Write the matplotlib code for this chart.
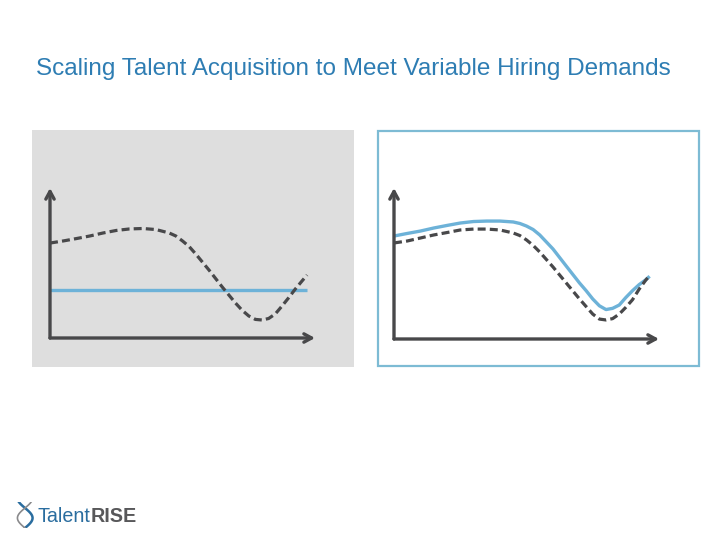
import matplotlib.pyplot as plt
from matplotlib.patches import Rectangle
import numpy as np

# ---- data (arbitrary units) ----
# left panel: fixed capacity vs. fluctuating hiring demand
left_x = [0, 0.5, 1, 1.5, 2, 2.5, 3, 3.5, 4, 4.5, 4.75, 5, 5.25, 5.5, 6, 6.5, 7, 7.25, 7.5,
          7.75, 8, 8.25, 8.5, 8.75, 9, 9.25, 9.5, 9.7]
left_demand = [6.33, 6.47, 6.63, 6.8, 7.0, 7.17, 7.27, 7.3, 7.23, 7.0, 6.8, 6.47, 6.1, 5.6,
               4.53, 3.4, 2.33, 1.85, 1.47, 1.24, 1.2, 1.3, 1.6, 2.12, 2.67, 3.25, 3.78, 4.2]
left_capacity_x = [0, 9.7]
left_capacity = [3.2, 3.2]

# right panel: scalable capacity tracking demand
right_x = [0, 0.5, 1, 1.5, 2, 2.5, 3, 3.5, 4, 4.5, 4.75, 5, 5.25, 5.5, 6, 6.5, 7, 7.25, 7.5,
           7.75, 8, 8.25, 8.5, 8.75, 9, 9.25, 9.5, 9.6]
right_demand = [6.36, 6.49, 6.69, 6.89, 7.05, 7.22, 7.28, 7.28, 7.22, 7.02, 6.85, 6.56, 6.2,
                5.76, 4.77, 3.71, 2.65, 2.15, 1.65, 1.32, 1.26, 1.35, 1.65, 2.1, 2.6, 3.3,
                3.9, 4.1]
right_capacity = [6.82, 6.99, 7.15, 7.35, 7.52, 7.68, 7.78, 7.81, 7.81, 7.75, 7.65, 7.48, 7.25,
                  6.89, 5.96, 4.83, 3.71, 3.2, 2.65, 2.2, 1.95, 2.03, 2.25, 2.75, 3.2, 3.6,
                  3.92, 4.08]

title = "Scaling Talent Acquisition to Meet Variable Hiring Demands"

W, H = 720, 540
AXIS_COLOR = '#48484a'
BLUE = '#6db2d8'
DASH_COLOR = '#48484a'

plt.rcParams['font.family'] = ['Liberation Sans', 'DejaVu Sans']

fig = plt.figure(figsize=(W / 100, H / 100), dpi=100)
fig.patch.set_facecolor('white')


def frac(x0, y0, x1, y1):
    """pixel box (top-left origin) -> figure fraction rect"""
    return [x0 / W, 1 - y1 / H, (x1 - x0) / W, (y1 - y0) / H]


# panel backgrounds
fig.patches.append(Rectangle((32 / W, 1 - 367 / H), 322 / W, 237 / H, transform=fig.transFigure,
                             facecolor='#dedede', edgecolor='none', zorder=0))
fig.patches.append(Rectangle((378 / W, 1 - 366 / H), 321 / W, 235 / H, transform=fig.transFigure,
                             facecolor='white', edgecolor='#7dbbd4', linewidth=1.6, zorder=0))


def make_panel(box):
    ax = fig.add_axes(frac(*box))
    ax.set_zorder(2)
    ax.set_xlim(0, 10)
    ax.set_ylim(0, 10)
    ax.axis('off')
    ax.patch.set_alpha(0)
    arrow = dict(arrowstyle='->,head_length=0.55,head_width=0.3', lw=2.4, color=AXIS_COLOR,
                 shrinkA=0, shrinkB=0)
    ax.annotate('', xy=(0, 1), xytext=(0, 0), xycoords='axes fraction', arrowprops=arrow,
                annotation_clip=False)
    ax.annotate('', xy=(1, 0), xytext=(0, 0), xycoords='axes fraction', arrowprops=arrow,
                annotation_clip=False)
    return ax


ax1 = make_panel((50, 188, 315, 338))
ax1.plot(left_capacity_x, left_capacity, color=BLUE, lw=2.4, solid_capstyle='butt', zorder=2)
ax1.plot(left_x, left_demand, color=DASH_COLOR, lw=2.3, dashes=(2.5, 1.3), zorder=3,
         solid_joinstyle='round')

ax2 = make_panel((394, 188, 659, 339))
ax2.plot(right_x, right_capacity, color=BLUE, lw=2.4, zorder=2, solid_joinstyle='round')
ax2.plot(right_x, right_demand, color=DASH_COLOR, lw=2.3, dashes=(2.5, 1.3), zorder=3)

fig.text(36 / W, 1 - 69 / H, title, fontsize=17.5, color='#2e7db3', va='center', ha='left')

# logo
talent = fig.text(38 / W, 1 - 522 / H, 'Talent', fontsize=14.2, color='#2a6d9f',
                  va='baseline', ha='left')
fig.canvas.draw()
bb = talent.get_window_extent()
fig.text(bb.x1 / W, 1 - 522 / H, 'RISE', fontsize=14.2, color='#58585a', va='baseline',
         ha='left', fontweight='bold')
lax = fig.add_axes(frac(16, 502, 34, 528))
lax.axis('off')
t = np.linspace(0, 1, 50)
lax.plot(0.5 + 0.42 * np.sin(np.pi * 1.3 * t), t, color='#2a6d9f', lw=1.8)
lax.plot(0.5 - 0.42 * np.sin(np.pi * 1.3 * t), t, color='#8a8a8c', lw=1.2)
lax.set_xlim(0, 1)
lax.set_ylim(0, 1)

fig.savefig('out.png', dpi=100)
